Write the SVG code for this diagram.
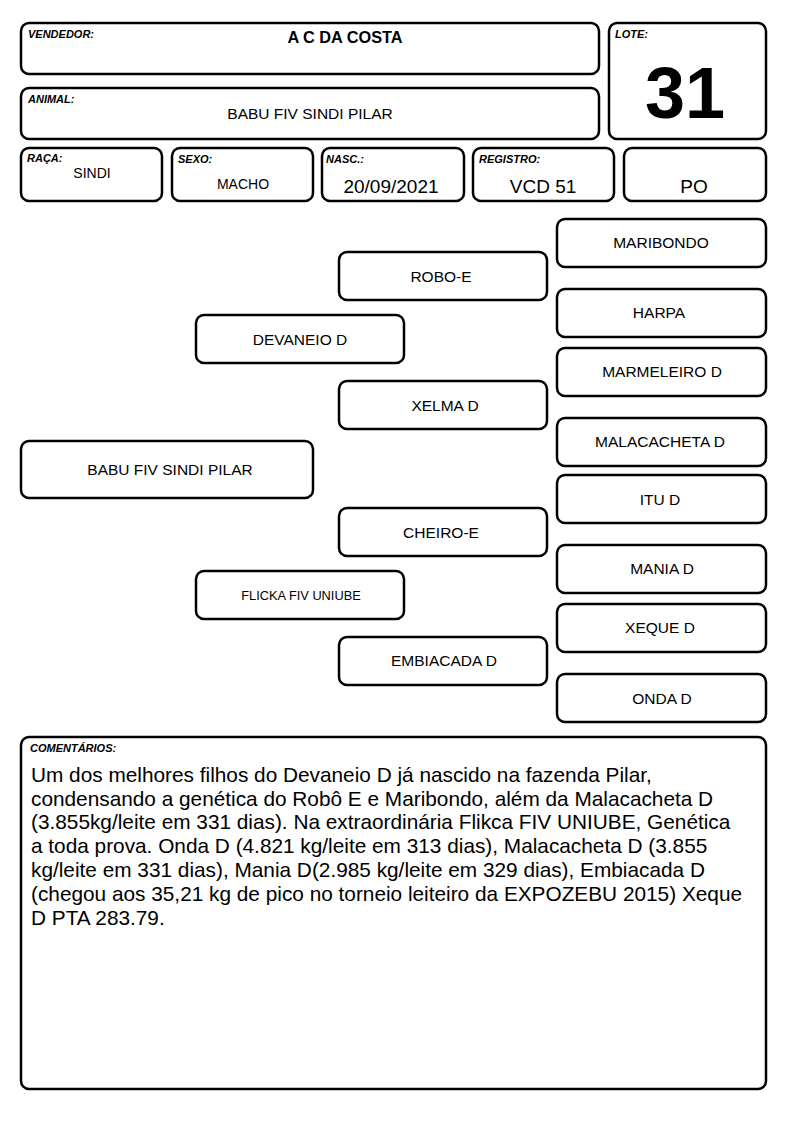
<svg xmlns="http://www.w3.org/2000/svg" width="794" height="1123" viewBox="0 0 794 1123">
<style>
.b{fill:#fff;stroke:#000;stroke-width:2.5}
.l{font-family:"Liberation Sans",Arial,sans-serif;font-size:11px;font-weight:bold;font-style:italic;fill:#000}
.v{font-family:"Liberation Sans",Arial,sans-serif;font-size:15.5px;fill:#000;text-anchor:middle}
.s14{font-size:14px}
.s19{font-size:19px}
.s13{font-size:12.8px}
.bold{font-size:16.3px;font-weight:bold}
.c{font-family:"Liberation Sans",Arial,sans-serif;font-size:20.8px;fill:#000}
</style>
<rect width="794" height="1123" fill="#fff"/>
<g id="vendedor"><rect class="b" x="21" y="23" width="578" height="51" rx="8"/><text class="l" x="28" y="38">VENDEDOR:</text><text class="v bold" x="345" y="43">A C DA COSTA</text></g>
<g id="animal"><rect class="b" x="21" y="88" width="578" height="51" rx="8"/><text class="l" x="28" y="103">ANIMAL:</text><text class="v" x="310" y="119">BABU FIV SINDI PILAR</text></g>
<g id="lote"><rect class="b" x="609" y="23" width="157" height="116" rx="8"/><text class="l" x="615" y="38">LOTE:</text><text x="685" y="118" font-family="Liberation Sans,Arial,sans-serif" font-size="72" font-weight="bold" text-anchor="middle">31</text></g>
<g id="raca"><rect class="b" x="21" y="148" width="141" height="53" rx="8"/><text class="l" x="27" y="162">RAÇA:</text><text class="v s14" x="92" y="178">SINDI</text></g>
<g id="sexo"><rect class="b" x="172" y="148" width="141" height="53" rx="8"/><text class="l" x="178" y="163">SEXO:</text><text class="v s14" x="243" y="189">MACHO</text></g>
<g id="nasc"><rect class="b" x="322" y="148" width="142" height="53" rx="8"/><text class="l" x="326" y="163">NASC.:</text><text class="v s19" x="391" y="193">20/09/2021</text></g>
<g id="registro"><rect class="b" x="473" y="148" width="141" height="53" rx="8"/><text class="l" x="479" y="163">REGISTRO:</text><text class="v s19" x="543" y="193">VCD 51</text></g>
<g id="po"><rect class="b" x="624" y="148" width="142" height="53" rx="8"/><text class="v s19" x="694" y="193">PO</text></g>
<g id="connectors"></g>
<g id="maribondo"><rect class="b" x="557" y="219" width="209" height="48" rx="8"/><text class="v" x="661" y="248">MARIBONDO</text></g>
<g id="robo-e"><rect class="b" x="339" y="252" width="208" height="48" rx="8"/><text class="v" x="441" y="282">ROBO-E</text></g>
<g id="harpa"><rect class="b" x="557" y="289" width="209" height="48" rx="8"/><text class="v" x="659" y="318">HARPA</text></g>
<g id="devaneio"><rect class="b" x="196" y="315" width="208" height="48" rx="8"/><text class="v" x="300" y="345">DEVANEIO D</text></g>
<g id="marmeleiro"><rect class="b" x="557" y="348" width="209" height="48" rx="8"/><text class="v" x="662" y="377">MARMELEIRO D</text></g>
<g id="xelma"><rect class="b" x="339" y="381" width="208" height="48" rx="8"/><text class="v" x="445" y="411">XELMA D</text></g>
<g id="malacacheta"><rect class="b" x="557" y="418" width="209" height="48" rx="8"/><text class="v" x="660" y="447">MALACACHETA D</text></g>
<g id="babu"><rect class="b" x="21" y="441" width="292" height="57" rx="8"/><text class="v" x="170" y="475">BABU FIV SINDI PILAR</text></g>
<g id="itu"><rect class="b" x="557" y="475" width="209" height="48" rx="8"/><text class="v" x="660" y="505">ITU D</text></g>
<g id="cheiro-e"><rect class="b" x="339" y="508" width="208" height="48" rx="8"/><text class="v" x="441" y="538">CHEIRO-E</text></g>
<g id="mania"><rect class="b" x="557" y="545" width="209" height="48" rx="8"/><text class="v" x="662" y="574">MANIA D</text></g>
<g id="flicka"><rect class="b" x="196" y="571" width="208" height="48" rx="8"/><text class="v s13" x="301" y="600">FLICKA FIV UNIUBE</text></g>
<g id="xeque"><rect class="b" x="557" y="604" width="209" height="48" rx="8"/><text class="v" x="660" y="633">XEQUE D</text></g>
<g id="embiacada"><rect class="b" x="339" y="637" width="208" height="48" rx="8"/><text class="v" x="444" y="666">EMBIACADA D</text></g>
<g id="onda"><rect class="b" x="557" y="674" width="209" height="48" rx="8"/><text class="v" x="662" y="704">ONDA D</text></g>
<g id="comentarios"><rect class="b" x="21" y="737" width="745" height="352" rx="8"/><text class="l" x="30" y="752">COMENTÁRIOS:</text>
<text class="c"><tspan x="31" y="782">Um dos melhores filhos do Devaneio D já nascido na fazenda Pilar,</tspan><tspan x="31" y="806">condensando a genética do Robô E e Maribondo, além da Malacacheta D</tspan><tspan x="31" y="829">(3.855kg/leite em 331 dias). Na extraordinária Flikca FIV UNIUBE, Genética</tspan><tspan x="31" y="853">a toda prova. Onda D (4.821 kg/leite em 313 dias), Malacacheta D (3.855</tspan><tspan x="31" y="877">kg/leite em 331 dias), Mania D(2.985 kg/leite em 329 dias), Embiacada D</tspan><tspan x="31" y="901">(chegou aos 35,21 kg de pico no torneio leiteiro da EXPOZEBU 2015) Xeque</tspan><tspan x="31" y="925">D PTA 283.79.</tspan></text></g>
</svg>
